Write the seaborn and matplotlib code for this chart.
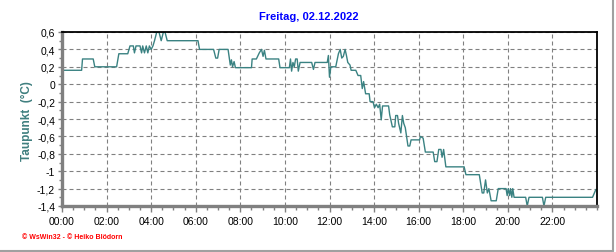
import matplotlib
matplotlib.use("Agg")
import matplotlib.pyplot as plt
from matplotlib.lines import Line2D
from matplotlib.ticker import MultipleLocator
import seaborn as sns
import pandas as pd

# ---- data (hours since midnight, dew point in °C) ----
hours = [0.00, 0.88, 0.92, 1.40, 1.47, 2.45, 2.55, 2.95, 3.05, 3.20, 3.25, 3.32, 3.50, 3.57,
         3.62, 3.70, 3.78, 3.85, 3.92, 4.00, 4.08, 4.15, 4.25, 4.35, 4.45, 4.55, 4.62, 4.72,
         6.10, 6.17, 6.80, 6.90, 6.98, 7.05, 7.45, 7.55, 7.60, 7.65, 7.72, 7.78, 8.50, 8.53,
         8.72, 8.85, 8.95, 9.02, 9.08, 9.15, 9.72, 9.78, 10.20, 10.25, 10.30, 10.36, 10.42,
         10.48, 10.55, 10.60, 10.68, 11.20, 11.28, 11.35, 11.90, 11.95, 12.00, 12.06, 12.28,
         12.40, 12.48, 12.55, 12.62, 12.70, 12.76, 12.82, 12.92, 12.97, 13.18, 13.28, 13.40,
         13.47, 13.53, 13.62, 13.78, 13.82, 13.95, 14.02, 14.10, 14.18, 14.25, 14.32, 14.38,
         14.65, 14.70, 14.82, 14.93, 14.97, 15.05, 15.10, 15.20, 15.27, 15.33, 15.40, 15.52,
         15.60, 15.66, 16.04, 16.08, 16.20, 16.30, 16.65, 16.72, 16.82, 16.90, 17.00, 17.05,
         17.12, 17.22, 18.04, 18.12, 18.72, 18.85, 18.92, 19.00, 19.08, 19.15, 19.25, 19.48,
         19.57, 19.92, 19.97, 20.02, 20.08, 20.12, 20.18, 20.22, 20.28, 20.80, 20.87, 20.95,
         21.55, 21.62, 21.70, 23.80, 23.95]
dewpoint = [0.16, 0.16, 0.29, 0.29, 0.20, 0.20, 0.35, 0.35, 0.44, 0.44, 0.36, 0.44, 0.44, 0.36,
            0.44, 0.36, 0.44, 0.36, 0.44, 0.40, 0.44, 0.50, 0.60, 0.60, 0.50, 0.60, 0.60, 0.50,
            0.50, 0.40, 0.40, 0.30, 0.30, 0.40, 0.40, 0.22, 0.28, 0.20, 0.26, 0.19, 0.19, 0.29,
            0.29, 0.36, 0.40, 0.32, 0.39, 0.29, 0.29, 0.19, 0.19, 0.29, 0.15, 0.25, 0.20,
            0.29, 0.29, 0.15, 0.25, 0.25, 0.17, 0.25, 0.25, 0.33, 0.08, 0.20, 0.20,
            0.35, 0.40, 0.30, 0.32, 0.40, 0.33, 0.25, 0.22, 0.16, 0.16, 0.10, 0.10,
            -0.05, 0.03, -0.11, -0.11, -0.20, -0.20, -0.27, -0.23, -0.27, -0.23, -0.41, -0.25,
            -0.25, -0.35, -0.49, -0.49, -0.36, -0.36, -0.45, -0.56, -0.36, -0.45, -0.50, -0.71,
            -0.71, -0.64, -0.64, -0.60, -0.62, -0.78, -0.78, -0.89, -0.89, -0.75, -0.75, -0.84,
            -0.75, -0.95, -0.95, -1.04, -1.04, -1.25, -1.25, -1.10, -1.25, -1.20, -1.34, -1.34,
            -1.20, -1.20, -1.28, -1.20, -1.28, -1.20, -1.30, -1.20, -1.30, -1.30, -1.40, -1.30,
            -1.30, -1.40, -1.30, -1.30, -1.21]

x_ticks = [0, 2, 4, 6, 8, 10, 12, 14, 16, 18, 20, 22]
x_labels = ["00:00", "02:00", "04:00", "06:00", "08:00", "10:00", "12:00",
            "14:00", "16:00", "18:00", "20:00", "22:00"]
y_ticks = [0.6, 0.4, 0.2, 0.0, -0.2, -0.4, -0.6, -0.8, -1.0, -1.2, -1.4]
y_labels = ["0,6", "0,4", "0,2", "0", "-0,2", "-0,4", "-0,6", "-0,8", "-1", "-1,2", "-1,4"]

title = "Freitag, 02.12.2022"
ylabel = "Taupunkt  (°C)"
footer = "© WsWin32 - © Heiko Blödorn"

# ---- style ----
sns.set_style("white")
plt.rcParams["font.family"] = ["Liberation Sans", "DejaVu Sans"]

W, H = 616, 253
fig = plt.figure(figsize=(W / 100, H / 100), dpi=100)
fig.patch.set_facecolor("white")
L, R, T, B = 62, 597, 33, 207
ax = fig.add_axes([L / W, 1 - B / H, (R - L) / W, (B - T) / H])

df = pd.DataFrame({"h": hours, "v": dewpoint})
sns.lineplot(data=df, x="h", y="v", ax=ax, sort=False, estimator=None,
             color="#3a8282", lw=1.0)

ax.set_xlim(0, 24)
ax.set_ylim(-1.4, 0.6)
ax.set_xticks(x_ticks)
ax.set_xticklabels(x_labels)
ax.set_yticks(y_ticks)
ax.set_yticklabels(y_labels)
ax.xaxis.set_minor_locator(MultipleLocator(0.5))
ax.yaxis.set_minor_locator(MultipleLocator(0.1))

ax.grid(True, which="major", color="#808080", lw=0.8, ls=(0, (3.6, 2.7)))
ax.set_axisbelow(True)

for s in ("top", "right"):
    ax.spines[s].set_color("black")
    ax.spines[s].set_linewidth(1.3)
for s in ("left", "bottom"):
    ax.spines[s].set_color("#808080")
    ax.spines[s].set_linewidth(2.4)

ax.tick_params(axis="x", which="major", length=4, width=1, color="#808080",
               labelsize=7.5, pad=3, labelcolor="black", direction="out", bottom=True)
ax.tick_params(axis="x", which="minor", length=3, width=1, color="#808080",
               direction="out", bottom=True)
ax.tick_params(axis="y", which="major", length=3, width=1, color="#808080",
               labelsize=7.5, pad=2, labelcolor="black", direction="out", left=True)
ax.tick_params(axis="y", which="minor", length=2, width=1, color="#808080",
               direction="out", left=True)

ax.set_xlabel("")
ax.set_ylabel("")
fig.text(309 / W, 1 - 17 / H, title, color="#0000ff", fontsize=8, fontweight="bold",
         ha="center", va="center")
fig.text(27 / W, 1 - 121 / H, ylabel, color="#3f7f7f", fontsize=8.5, fontweight="bold",
         rotation=90, ha="center", va="center")
fig.text(22 / W, 1 - 238 / H, footer, color="#ff0000", fontsize=5, fontweight="bold",
         ha="left", va="center")

# outer frame (right and bottom edges)
fig.add_artist(Line2D([613 / W, 613 / W], [1 - 252 / H, 1.0], color="#a0a0a0", lw=1.5))
fig.add_artist(Line2D([0, 613 / W], [1 - 252 / H, 1 - 252 / H], color="#a0a0a0", lw=1.5))

fig.savefig("out.png", dpi=100, facecolor="white")
